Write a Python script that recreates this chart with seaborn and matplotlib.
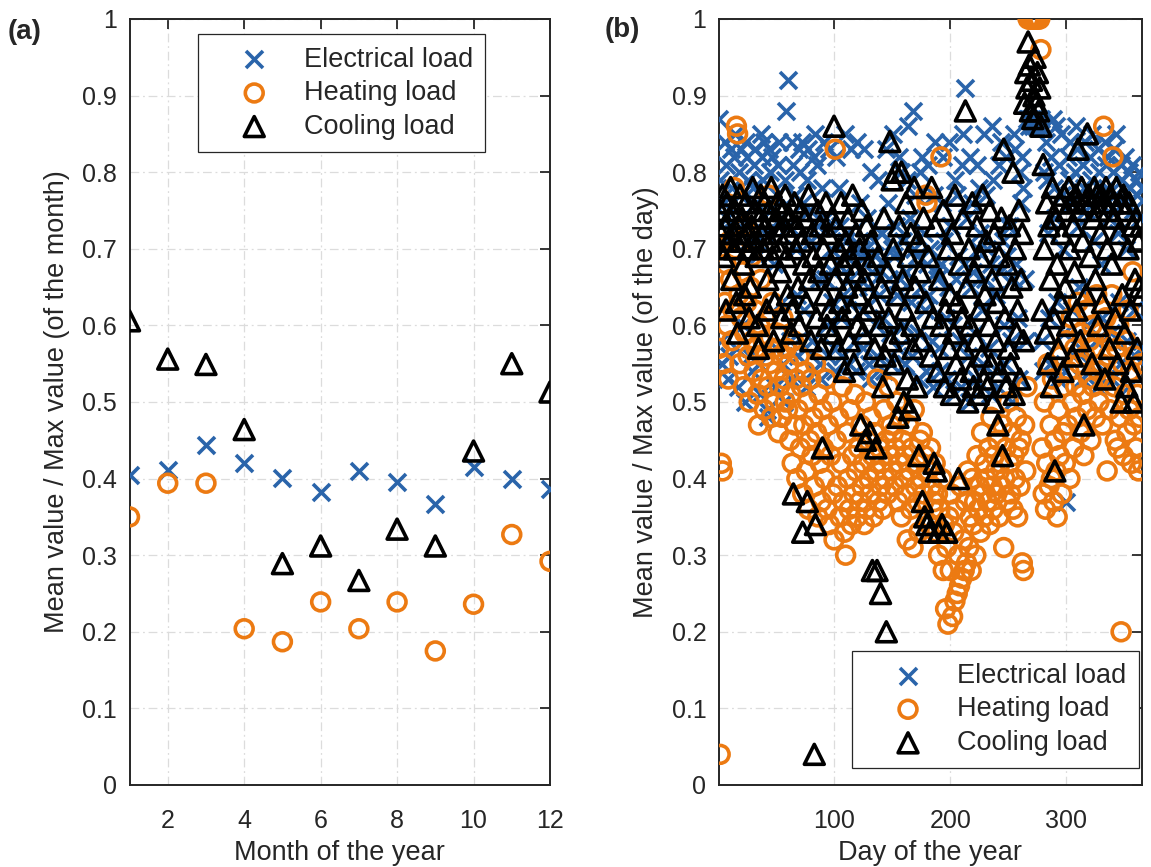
import numpy as np
import matplotlib
matplotlib.use("Agg")
import matplotlib.pyplot as plt
from matplotlib.ticker import FuncFormatter
import seaborn as sns

# ---------------- data ----------------
months = list(range(1, 13))
elec_month = [0.405, 0.411, 0.444, 0.421, 0.401, 0.383, 0.410, 0.395, 0.367, 0.415, 0.399, 0.387]
heat_month = [0.350, 0.394, 0.394, 0.204, 0.187, 0.239, 0.204, 0.239, 0.175, 0.236, 0.327, 0.292]
cool_month = [0.606, 0.556, 0.549, 0.464, 0.289, 0.312, 0.267, 0.334, 0.312, 0.436, 0.550, 0.513]

days = list(range(1, 366))

elec_day = [
    0.87, 0.79, 0.58, 0.55, 0.76, 0.84, 0.81, 0.74, 0.53, 0.56,
    0.83, 0.78, 0.72, 0.82, 0.85, 0.57, 0.52, 0.80, 0.77, 0.83,
    0.74, 0.60, 0.50, 0.84, 0.82, 0.79, 0.71, 0.56, 0.54, 0.78,
    0.81, 0.83, 0.76, 0.69, 0.55, 0.51, 0.85, 0.82, 0.79, 0.84,
    0.72, 0.49, 0.48, 0.83, 0.80, 0.75, 0.82, 0.68, 0.52, 0.57,
    0.77, 0.81, 0.84, 0.74, 0.63, 0.55, 0.50, 0.79, 0.88, 0.92,
    0.73, 0.58, 0.53, 0.84, 0.81, 0.77, 0.70, 0.64, 0.56, 0.83,
    0.80, 0.84, 0.76, 0.62, 0.57, 0.52, 0.79, 0.83, 0.75, 0.71,
    0.58, 0.54, 0.82, 0.85, 0.81, 0.73, 0.66, 0.55, 0.53, 0.78,
    0.84, 0.66, 0.74, 0.60, 0.56, 0.83, 0.70, 0.63, 0.67, 0.57,
    0.54, 0.82, 0.68, 0.78, 0.73, 0.61, 0.56, 0.64, 0.85, 0.71,
    0.72, 0.63, 0.55, 0.66, 0.83, 0.70, 0.68, 0.58, 0.54, 0.84,
    0.65, 0.76, 0.70, 0.62, 0.57, 0.83, 0.69, 0.74, 0.65, 0.55,
    0.53, 0.80, 0.67, 0.71, 0.69, 0.60, 0.56, 0.79, 0.64, 0.72,
    0.72, 0.61, 0.54, 0.68, 0.83, 0.76, 0.66, 0.59, 0.55, 0.70,
    0.85, 0.69, 0.73, 0.64, 0.57, 0.82, 0.66, 0.80, 0.71, 0.60,
    0.55, 0.67, 0.79, 0.86, 0.74, 0.63, 0.56, 0.88, 0.70, 0.77,
    0.69, 0.59, 0.53, 0.80, 0.65, 0.82, 0.72, 0.62, 0.54, 0.68,
    0.81, 0.64, 0.70, 0.58, 0.52, 0.77, 0.84, 0.67, 0.66, 0.57,
    0.54, 0.68, 0.76, 0.82, 0.71, 0.61, 0.53, 0.65, 0.84, 0.73,
    0.73, 0.60, 0.51, 0.79, 0.66, 0.77, 0.69, 0.58, 0.52, 0.81,
    0.85, 0.68, 0.91, 0.74, 0.56, 0.50, 0.82, 0.65, 0.76, 0.67,
    0.59, 0.53, 0.81, 0.70, 0.78, 0.72, 0.62, 0.55, 0.85, 0.66,
    0.77, 0.70, 0.57, 0.51, 0.68, 0.86, 0.79, 0.64, 0.64, 0.54,
    0.52, 0.81, 0.67, 0.84, 0.71, 0.60, 0.55, 0.82, 0.69, 0.73,
    0.73, 0.58, 0.50, 0.66, 0.85, 0.83, 0.68, 0.61, 0.53, 0.80,
    0.76, 0.82, 0.78, 0.66, 0.58, 0.87, 0.87, 0.86, 0.87, 0.87,
    0.86, 0.87, 0.87, 0.86, 0.87, 0.87, 0.86, 0.87, 0.58, 0.54,
    0.80, 0.84, 0.79, 0.72, 0.61, 0.55, 0.82, 0.87, 0.78, 0.74,
    0.86, 0.63, 0.53, 0.81, 0.85, 0.77, 0.70, 0.59, 0.54, 0.37,
    0.82, 0.79, 0.84, 0.76, 0.62, 0.56, 0.80, 0.86, 0.83, 0.73,
    0.65, 0.57, 0.53, 0.81, 0.78, 0.84, 0.75, 0.60, 0.55, 0.82,
    0.79, 0.85, 0.77, 0.71, 0.58, 0.52, 0.83, 0.80, 0.76, 0.68,
    0.61, 0.54, 0.84, 0.81, 0.78, 0.82, 0.74, 0.59, 0.53, 0.80,
    0.83, 0.77, 0.85, 0.72, 0.63, 0.55, 0.81, 0.79, 0.76, 0.82,
    0.70, 0.58, 0.52, 0.80, 0.78, 0.81, 0.75, 0.62, 0.56, 0.79,
    0.77, 0.80, 0.74, 0.57, 0.78,
]

heat_day = [
    0.57, 0.04, 0.42, 0.41, 0.55, 0.63, 0.68, 0.60, 0.53, 0.71,
    0.66, 0.58, 0.62, 0.78, 0.70, 0.86, 0.85, 0.64, 0.55, 0.61,
    0.67, 0.52, 0.59, 0.73, 0.63, 0.56, 0.50, 0.65, 0.69, 0.58,
    0.54, 0.62, 0.57, 0.51, 0.47, 0.60, 0.66, 0.53, 0.58, 0.49,
    0.56, 0.61, 0.52, 0.77, 0.55, 0.48, 0.63, 0.57, 0.50, 0.54,
    0.59, 0.46, 0.52, 0.56, 0.48, 0.61, 0.53, 0.50, 0.57, 0.49,
    0.55, 0.45, 0.51, 0.42, 0.58, 0.47, 0.53, 0.40, 0.49, 0.56,
    0.44, 0.52, 0.38, 0.47, 0.54, 0.41, 0.50, 0.36, 0.45, 0.53,
    0.43, 0.48, 0.39, 0.55, 0.46, 0.35, 0.51, 0.42, 0.37, 0.49,
    0.44, 0.40, 0.53, 0.36, 0.47, 0.34, 0.43, 0.50, 0.38, 0.32,
    0.83, 0.45, 0.39, 0.48, 0.35, 0.42, 0.52, 0.37, 0.33, 0.30,
    0.46, 0.40, 0.36, 0.49, 0.34, 0.43, 0.38, 0.51, 0.41, 0.35,
    0.44, 0.37, 0.47, 0.39, 0.42, 0.34, 0.50, 0.36, 0.45, 0.40,
    0.38, 0.48, 0.43, 0.35, 0.46, 0.41, 0.53, 0.37, 0.44, 0.39,
    0.42, 0.36, 0.49, 0.40, 0.45, 0.38, 0.52, 0.43, 0.47, 0.41,
    0.46, 0.39, 0.44, 0.50, 0.37, 0.42, 0.48, 0.35, 0.45, 0.40,
    0.43, 0.38, 0.32, 0.47, 0.41, 0.36, 0.44, 0.31, 0.49, 0.39,
    0.42, 0.37, 0.33, 0.45, 0.40, 0.46, 0.38, 0.43, 0.77, 0.76,
    0.41, 0.34, 0.44, 0.39, 0.36, 0.37, 0.42, 0.33, 0.38, 0.30,
    0.36, 0.82, 0.40, 0.28, 0.34, 0.23, 0.31, 0.21, 0.35, 0.28,
    0.38, 0.22, 0.33, 0.24, 0.36, 0.25, 0.30, 0.26, 0.39, 0.27,
    0.32, 0.28, 0.37, 0.29, 0.41, 0.31, 0.35, 0.28, 0.40, 0.34,
    0.37, 0.30, 0.43, 0.36, 0.39, 0.33, 0.46, 0.38, 0.35, 0.42,
    0.40, 0.37, 0.44, 0.34, 0.48, 0.39, 0.36, 0.43, 0.41, 0.38,
    0.45, 0.35, 0.42, 0.39, 0.47, 0.31, 0.40, 0.44, 0.37, 0.50,
    0.42, 0.38, 0.46, 0.36, 0.43, 0.40, 0.48, 0.35, 0.44, 0.39,
    0.45, 0.29, 0.28, 0.47, 0.41, 0.52, 1.00, 1.00, 1.00, 1.00,
    1.00, 1.00, 1.00, 1.00, 1.00, 1.00, 1.00, 0.96, 0.44, 0.38,
    0.50, 0.36, 0.42, 0.55, 0.39, 0.47, 0.40, 0.53, 0.37, 0.45,
    0.41, 0.35, 0.49, 0.43, 0.56, 0.38, 0.46, 0.52, 0.42, 0.58,
    0.47, 0.54, 0.40, 0.61, 0.50, 0.44, 0.57, 0.52, 0.48, 0.63,
    0.55, 0.46, 0.59, 0.51, 0.43, 0.56, 0.62, 0.49, 0.53, 0.58,
    0.45, 0.60, 0.52, 0.57, 0.48, 0.64, 0.54, 0.50, 0.59, 0.55,
    0.47, 0.86, 0.53, 0.61, 0.41, 0.56, 0.49, 0.58, 0.64, 0.82,
    0.52, 0.45, 0.57, 0.44, 0.60, 0.48, 0.20, 0.55, 0.43, 0.51,
    0.58, 0.46, 0.62, 0.49, 0.54, 0.42, 0.67, 0.47, 0.56, 0.44,
    0.51, 0.41, 0.48, 0.55, 0.42,
]

cool_day = [
    0.70, 0.75, 0.72, 0.77, 0.69, 0.73, 0.62, 0.76, 0.71, 0.74,
    0.78, 0.66, 0.72, 0.70, 0.75, 0.63, 0.59, 0.73, 0.77, 0.71,
    0.74, 0.68, 0.64, 0.76, 0.72, 0.70, 0.61, 0.65, 0.73, 0.78,
    0.71, 0.75, 0.69, 0.60, 0.57, 0.74, 0.77, 0.72, 0.70, 0.76,
    0.73, 0.62, 0.66, 0.75, 0.71, 0.78, 0.69, 0.58, 0.63, 0.74,
    0.76, 0.72, 0.70, 0.67, 0.61, 0.75, 0.73, 0.77, 0.69, 0.64,
    0.72, 0.74, 0.59, 0.62, 0.38, 0.76, 0.70, 0.73, 0.65, 0.60,
    0.75, 0.71, 0.33, 0.68, 0.74, 0.63, 0.37, 0.77, 0.66, 0.58,
    0.72, 0.69, 0.04, 0.34, 0.61, 0.75, 0.67, 0.73, 0.57, 0.44,
    0.70, 0.64, 0.76, 0.60, 0.72, 0.62, 0.68, 0.74, 0.59, 0.86,
    0.66, 0.73, 0.57, 0.70, 0.63, 0.76, 0.61, 0.68, 0.54, 0.71,
    0.65, 0.74, 0.58, 0.69, 0.62, 0.77, 0.55, 0.67, 0.72, 0.60,
    0.64, 0.70, 0.47, 0.75, 0.59, 0.66, 0.45, 0.73, 0.62, 0.68,
    0.46, 0.71, 0.28, 0.63, 0.57, 0.44, 0.28, 0.69, 0.60, 0.25,
    0.65, 0.52, 0.74, 0.56, 0.20, 0.67, 0.61, 0.84, 0.58, 0.79,
    0.70, 0.55, 0.80, 0.64, 0.48, 0.73, 0.59, 0.80, 0.66, 0.50,
    0.62, 0.76, 0.53, 0.69, 0.49, 0.72, 0.60, 0.57, 0.78, 0.65,
    0.52, 0.71, 0.43, 0.67, 0.58, 0.37, 0.74, 0.35, 0.63, 0.34,
    0.69, 0.33, 0.56, 0.78, 0.61, 0.42, 0.73, 0.41, 0.54, 0.33,
    0.66, 0.60, 0.34, 0.75, 0.52, 0.62, 0.33, 0.70, 0.57, 0.64,
    0.51, 0.72, 0.59, 0.77, 0.55, 0.63, 0.40, 0.68, 0.53, 0.61,
    0.74, 0.57, 0.88, 0.65, 0.50, 0.70, 0.60, 0.54, 0.76, 0.52,
    0.67, 0.58, 0.73, 0.51, 0.62, 0.69, 0.56, 0.77, 0.53, 0.64,
    0.71, 0.52, 0.60, 0.75, 0.55, 0.66, 0.50, 0.72, 0.58, 0.63,
    0.47, 0.69, 0.54, 0.74, 0.43, 0.83, 0.61, 0.52, 0.68, 0.57,
    0.73, 0.55, 0.65, 0.80, 0.51, 0.70, 0.59, 0.62, 0.75, 0.53,
    0.66, 0.72, 0.58, 0.89, 0.93, 0.91, 0.97, 0.94, 0.88, 0.92,
    0.87, 0.90, 0.95, 0.89, 0.93, 0.88, 0.91, 0.86, 0.62, 0.81,
    0.70, 0.59, 0.76, 0.55, 0.73, 0.66, 0.52, 0.78, 0.61, 0.41,
    0.74, 0.68, 0.57, 0.76, 0.63, 0.72, 0.54, 0.77, 0.65, 0.75,
    0.60, 0.78, 0.70, 0.76, 0.56, 0.73, 0.67, 0.77, 0.62, 0.83,
    0.75, 0.58, 0.78, 0.71, 0.47, 0.76, 0.64, 0.85, 0.77, 0.69,
    0.76, 0.55, 0.74, 0.78, 0.66, 0.77, 0.60, 0.75, 0.72, 0.77,
    0.63, 0.76, 0.53, 0.78, 0.70, 0.75, 0.57, 0.77, 0.68, 0.76,
    0.74, 0.61, 0.78, 0.55, 0.72, 0.76, 0.50, 0.64, 0.77, 0.59,
    0.75, 0.52, 0.70, 0.76, 0.62, 0.54, 0.73, 0.50, 0.66, 0.74,
    0.57, 0.71, 0.65, 0.73, 0.64,
]

series_labels = ["Electrical load", "Heating load", "Cooling load"]

# ---------------- style ----------------
BLUE = "#2A64AA"
ORANGE = "#EC7A12"
BLACK = "#000000"
AXCOL = "#262626"

sns.set_theme(style="white")
plt.rcParams["font.family"] = ["Liberation Sans", "DejaVu Sans"]
plt.rcParams["axes.edgecolor"] = AXCOL
plt.rcParams["axes.linewidth"] = 1.4

W, H = 1151, 867
fig = plt.figure(figsize=(W / 100, H / 100), dpi=100)
fig.patch.set_facecolor("white")

ax_a = fig.add_axes([129.5 / W, (H - 785) / H, (550 - 129.5) / W, 766 / H])
ax_b = fig.add_axes([719 / W, (H - 785) / H, (1142 - 719) / W, 766 / H])

LW = 2.6
S_X, S_O, S_T = 150, 165, 205


def draw_series(ax, x, e, h, c):
    sns.scatterplot(x=x, y=e, ax=ax, marker="x", s=S_X, color=BLUE,
                    linewidth=LW, label=series_labels[0], zorder=3, legend=False)
    sns.scatterplot(x=x, y=h, ax=ax, marker="o", s=S_O, color=ORANGE,
                    facecolor="none", edgecolor=ORANGE, linewidth=LW,
                    label=series_labels[1], zorder=4, legend=False)
    sns.scatterplot(x=x, y=c, ax=ax, marker="^", s=S_T, color=BLACK,
                    facecolor="none", edgecolor=BLACK, linewidth=LW,
                    label=series_labels[2], zorder=5, legend=False)


draw_series(ax_a, months, elec_month, heat_month, cool_month)
draw_series(ax_b, days, elec_day, heat_day, cool_day)

yticks = np.round(np.arange(0, 1.01, 0.1), 1)
fmt = FuncFormatter(lambda v, p: f"{v:g}")

for ax in (ax_a, ax_b):
    ax.set_ylim(0, 1)
    ax.set_yticks(yticks)
    ax.yaxis.set_major_formatter(fmt)
    ax.grid(True, color="#DCDCDC", linewidth=0.9, linestyle=(0, (7, 3, 1.5, 3)), zorder=0)
    ax.set_axisbelow(True)
    for sp in ax.spines.values():
        sp.set_visible(True)
        sp.set_color(AXCOL)
        sp.set_linewidth(1.4)
    ax.tick_params(direction="in", length=7, width=1.3, top=True, right=True,
                   labelsize=18, colors=AXCOL, labelcolor=AXCOL)
    ax.tick_params(axis="y", pad=9)
    ax.tick_params(axis="x", pad=17)

ax_a.set_xlim(1, 12)
ax_a.set_xticks([2, 4, 6, 8, 10, 12])
ax_b.set_xlim(1, 365)
ax_b.set_xticks([100, 200, 300])

lab_kw = dict(fontsize=19.5, color=AXCOL)
ax_a.set_xlabel("Month of the year", labelpad=5.5, **lab_kw)
ax_b.set_xlabel("Day of the year", labelpad=5.5, **lab_kw)
ax_a.set_ylabel("Mean value / Max value (of the month)", labelpad=9, **lab_kw)
ax_b.set_ylabel("Mean value / Max value (of the day)", labelpad=9, **lab_kw)

leg_kw = dict(fontsize=19.5, frameon=True, fancybox=False, framealpha=1,
              edgecolor=AXCOL, borderpad=0.45, handlelength=3.25, handletextpad=0.2,
              labelspacing=0.28, borderaxespad=0)
leg_a = ax_a.legend(loc="upper left", bbox_to_anchor=(0.163, 0.980), **leg_kw)
leg_b = ax_b.legend(loc="lower left", bbox_to_anchor=(0.314, 0.022), **leg_kw)
for leg in (leg_a, leg_b):
    leg.get_frame().set_linewidth(0.9)
    leg.set_zorder(10)

fig.text(8 / W, 1 - 32 / H, "(a)", fontsize=20, fontweight="bold", va="center", ha="left")
fig.text(605 / W, 1 - 30 / H, "(b)", fontsize=20, fontweight="bold", va="center", ha="left")

fig.savefig("out.png", dpi=100, facecolor="white")
